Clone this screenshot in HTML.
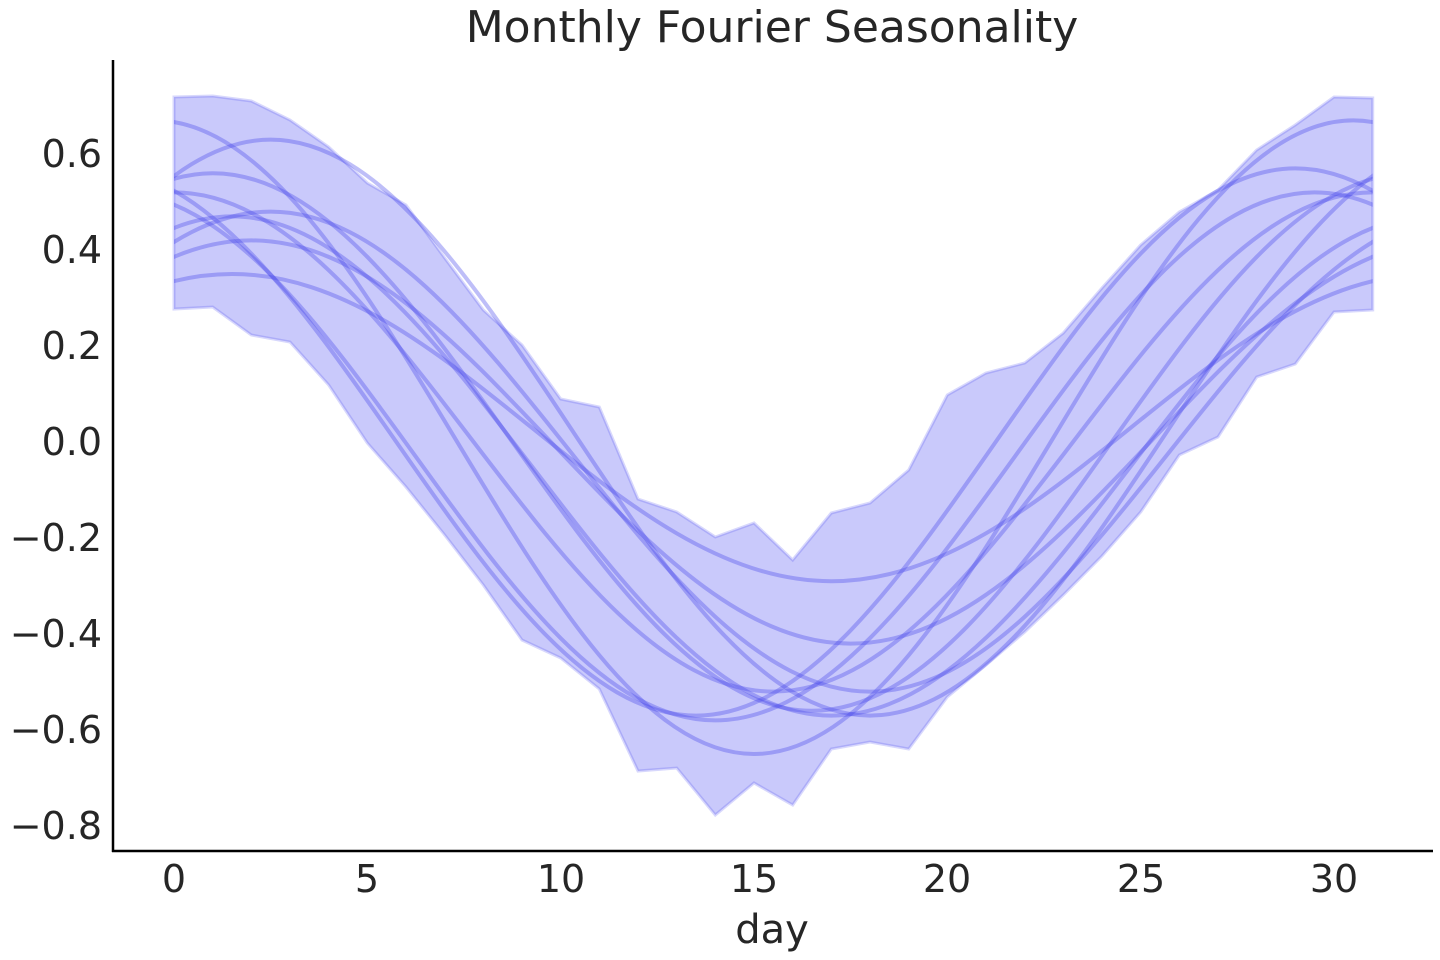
<!DOCTYPE html>
<html><head><meta charset="utf-8"><style>
html,body{margin:0;padding:0;background:#fff;}
svg{display:block;font-family:"DejaVu Sans","Liberation Sans",sans-serif;}
</style></head><body>
<svg width="1440" height="960" viewBox="0 0 1440 960" xmlns="http://www.w3.org/2000/svg">
<defs><clipPath id="cp"><rect x="174" y="0" width="1198.7" height="960"/></clipPath></defs>
<rect width="1440" height="960" fill="#fff"/>
<path d="M174,97 L212.7,96 L251.3,101 L290,120 L328.7,147 L367.3,183 L406,205 L444.7,258 L483.3,310 L522,345 L560.7,399 L599.3,407 L638,499 L676.7,512 L715.3,537 L754,523 L792.7,560 L831.3,513 L870,503 L908.7,470 L947.3,395 L986,373 L1024.7,363 L1063.3,333 L1102,288 L1140.7,245 L1179.3,212 L1218,190 L1256.7,150 L1295.3,125 L1334,97 L1372.7,98 L1372.7,310 L1334,312 L1295.3,364 L1256.7,377 L1218,437 L1179.3,455 L1140.7,512 L1102,556 L1063.3,595 L1024.7,632 L986,665 L947.3,697 L908.7,749 L870,742 L831.3,749 L792.7,805 L754,783 L715.3,815 L676.7,768 L638,771 L599.3,689 L560.7,658 L522,640 L483.3,585 L444.7,535 L406,487 L367.3,443 L328.7,385 L290,342 L251.3,335 L212.7,307 L174,309 Z" fill="rgba(60,60,240,0.28)" stroke="rgba(60,60,240,0.2)" stroke-width="3"/>
<g clip-path="url(#cp)" fill="none" stroke="rgba(70,70,235,0.35)" stroke-width="4">
<path d="M-444.6,754 c217.8,0 381.5,-633.6 599.3,-633.6 s381.5,633.6 599.3,633.6 s381.5,-633.6 599.3,-633.6 s381.5,633.6 599.3,633.6"/>
<path d="M-328.6,715.6 c217.8,0 381.5,-576 599.3,-576 s381.5,576 599.3,576 s381.5,-576 599.3,-576 s381.5,576 599.3,576"/>
<path d="M-367.3,581.2 c217.8,0 381.5,-307.2 599.3,-307.2 s381.5,307.2 599.3,307.2 s381.5,-307.2 599.3,-307.2 s381.5,307.2 599.3,307.2"/>
<path d="M-348,643.6 c217.8,0 381.5,-403.2 599.3,-403.2 s381.5,403.2 599.3,403.2 s381.5,-403.2 599.3,-403.2 s381.5,403.2 599.3,403.2"/>
<path d="M-386.6,710.8 c217.8,0 381.5,-537.6 599.3,-537.6 s381.5,537.6 599.3,537.6 s381.5,-537.6 599.3,-537.6 s381.5,537.6 599.3,537.6"/>
<path d="M-425.3,691.6 c217.8,0 381.5,-499.2 599.3,-499.2 s381.5,499.2 599.3,499.2 s381.5,-499.2 599.3,-499.2 s381.5,499.2 599.3,499.2"/>
<path d="M-483.3,720.4 c217.8,0 381.5,-528 599.3,-528 s381.5,528 599.3,528 s381.5,-528 599.3,-528 s381.5,528 599.3,528"/>
<path d="M-328.6,691.6 c217.8,0 381.5,-480 599.3,-480 s381.5,480 599.3,480 s381.5,-480 599.3,-480 s381.5,480 599.3,480"/>
<path d="M-502.6,715.6 c217.8,0 381.5,-547.2 599.3,-547.2 s381.5,547.2 599.3,547.2 s381.5,-547.2 599.3,-547.2 s381.5,547.2 599.3,547.2"/>
<path d="M-367.3,715.6 c217.8,0 381.5,-499.2 599.3,-499.2 s381.5,499.2 599.3,499.2 s381.5,-499.2 599.3,-499.2 s381.5,499.2 599.3,499.2"/>
</g>
<line x1="113" y1="60" x2="113" y2="852" stroke="#000" stroke-width="2.5"/>
<line x1="112" y1="851" x2="1433" y2="851" stroke="#000" stroke-width="2.5"/>
<g fill="#262626" font-size="38" text-anchor="end">
<text x="102" y="167">0.6</text>
<text x="102" y="263">0.4</text>
<text x="102" y="359">0.2</text>
<text x="102" y="455">0.0</text>
<text x="102" y="551">−0.2</text>
<text x="102" y="647">−0.4</text>
<text x="102" y="743">−0.6</text>
<text x="102" y="839">−0.8</text>
</g>
<g fill="#262626" font-size="38" text-anchor="middle">
<text x="174" y="892">0</text>
<text x="367" y="892">5</text>
<text x="561" y="892">10</text>
<text x="754" y="892">15</text>
<text x="947" y="892">20</text>
<text x="1141" y="892">25</text>
<text x="1334" y="892">30</text>
<text x="772" y="943" font-size="40">day</text>
<text x="772" y="42" font-size="44">Monthly Fourier Seasonality</text>
</g>
</svg>
</body></html>
